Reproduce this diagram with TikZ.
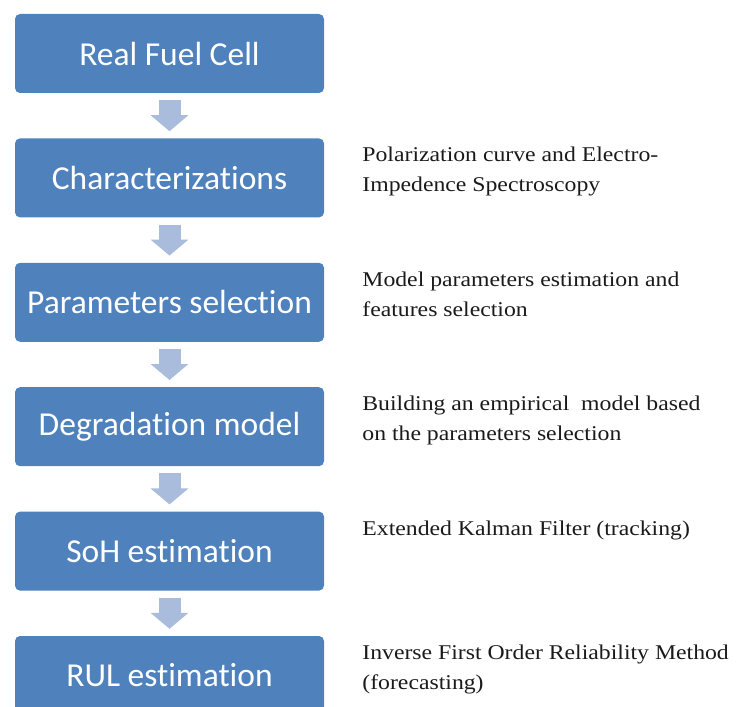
\documentclass[tikz,border=0pt]{standalone}
\usepackage{fontspec}
\setmainfont[FakeStretch=1.13]{Liberation Serif}
\newfontfamily\boxfont[Ligatures=NoCommon]{Carlito}
\usetikzlibrary{positioning,arrows.meta}

\definecolor{stageblue}{HTML}{4F81BD}
\definecolor{flowgray}{HTML}{A9BCDB}
\definecolor{notetext}{HTML}{1A1A1A}

\tikzset{
  stage/.style={fill=stageblue, rounded corners=5pt, minimum width=309pt,
    minimum height=79pt, inner sep=2pt, text=white,
    font=\boxfont\fontsize{33.5}{36}\selectfont},
  note/.style={anchor=north west, inner sep=0pt, align=left, text=notetext,
    font=\fontsize{21}{30}\selectfont},
  flow/.style={flowgray, line width=22pt,
    -{Triangle[length=16pt,width=37pt]}}
}

\begin{document}
\begin{tikzpicture}[x=1pt,y=1pt]
\useasboundingbox (0,0) rectangle (738,-706);
\clip (0,0) rectangle (738,-706);

% Stages of the prognostics chain
\node[stage] (cell) at (169.5,-53.5) {Real Fuel Cell};
\node[stage, below=45pt of cell] (charac) {Characterizations};
\node[stage, below=45pt of charac] (params) {Parameters selection};
\node[stage, below=45pt of params] (degrad) {Degradation model};
\node[stage, below=45pt of degrad] (soh) {SoH estimation};
\node[stage, below=45pt of soh] (rul) {RUL estimation};

% Arrows between stages
\draw[flow] ([yshift=-7pt]cell.south) -- ([yshift=7pt]charac.north);
\draw[flow] ([yshift=-7pt]charac.south) -- ([yshift=7pt]params.north);
\draw[flow] ([yshift=-7pt]params.south) -- ([yshift=7pt]degrad.north);
\draw[flow] ([yshift=-7pt]degrad.south) -- ([yshift=7pt]soh.north);
\draw[flow] ([yshift=-7pt]soh.south) -- ([yshift=7pt]rul.north);

% Notes on the right
\node[note] (characnote) at ([xshift=38pt,yshift=-9pt]charac.north east)
  {Polarization curve and Electro-\\Impedence Spectroscopy};
\node[note] (paramsnote) at ([xshift=38pt,yshift=-9pt]params.north east)
  {Model parameters estimation and\\features selection};
\node[note] (degradnote) at ([xshift=38pt,yshift=-9pt]degrad.north east)
  {Building an empirical\ \ model based\\on the parameters selection};
\node[note] (sohnote) at ([xshift=38pt,yshift=-9pt]soh.north east)
  {Extended Kalman Filter (tracking)};
\node[note] (rulnote) at ([xshift=38pt,yshift=-9pt]rul.north east)
  {Inverse First Order Reliability Method\\(forecasting)};
\end{tikzpicture}
\end{document}
